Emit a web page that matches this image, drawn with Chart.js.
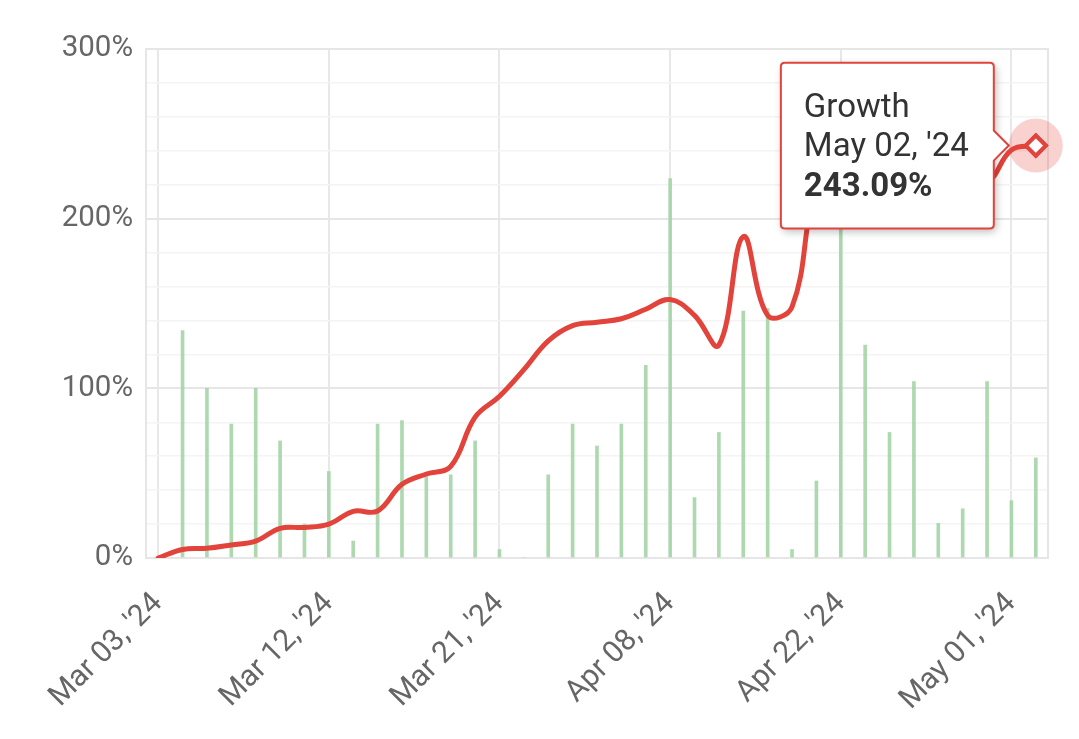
<!DOCTYPE html>
<html>
<head>
<meta charset="utf-8">
<script src="https://cdn.jsdelivr.net/npm/chart.js@4.4.1/dist/chart.umd.min.js"></script>
<style>
  html, body { margin: 0; padding: 0; background: #ffffff; }
  #wrap { width: 1079px; height: 739px; position: relative; }
</style>
</head>
<body>
<div id="wrap"><canvas id="c"></canvas></div>
<script>
const categories = [
  "Mar 03, '24", "Mar 04, '24", "Mar 05, '24", "Mar 06, '24", "Mar 07, '24", "Mar 08, '24", "Mar 10, '24",
  "Mar 12, '24", "Mar 13, '24", "Mar 14, '24", "Mar 15, '24", "Mar 17, '24", "Mar 18, '24", "Mar 19, '24",
  "Mar 21, '24", "Mar 24, '24", "Mar 26, '24", "Mar 28, '24", "Apr 01, '24", "Apr 03, '24", "Apr 05, '24",
  "Apr 08, '24", "Apr 10, '24", "Apr 12, '24", "Apr 14, '24", "Apr 16, '24", "Apr 18, '24", "Apr 20, '24",
  "Apr 22, '24", "Apr 23, '24", "Apr 24, '24", "Apr 25, '24", "Apr 26, '24", "Apr 28, '24", "Apr 29, '24",
  "May 01, '24", "May 02, '24"
];
const growth = [
  0, 5, 5.7, 7.7, 10, 17.5, 18,
  20, 27.5, 27.7, 43.4, 49.5, 54, 83,
  95.3, 111, 128, 137, 139, 141, 146.6,
  152.3, 143, 125.5, 189.4, 143, 148, 218,
  232, 226, 236, 229, 237, 231, 222,
  240.5, 243.09
];
const dailyBars = [
  0, 134, 100, 79, 100, 69, 20,
  51, 10, 79, 81, 48, 49, 69,
  5, 0, 49, 79, 66, 79, 113.6,
  223.6, 35.6, 74, 145.6, 147, 5, 45.4,
  215, 125.5, 74, 104, 20.4, 29, 104,
  33.8, 59
];
const yTickLabels = { 0: "0%", 100: "100%", 200: "200%", 300: "300%" };
const seriesName = "Growth";
const activeIndex = 36;

const RED = "#e2433b";

const framePlugin = {
  id: "frame",
  beforeDatasetsDraw(chart) {
    const a = chart.chartArea, ctx = chart.ctx;
    ctx.save();
    ctx.strokeStyle = "#e6e6e6";
    ctx.lineWidth = 2;
    ctx.strokeRect(a.left, a.top, a.right - a.left, a.bottom - a.top);
    ctx.restore();
  },
  afterDatasetsDraw(chart) {
    const act = chart.getActiveElements();
    const ctx = chart.ctx;
    act.forEach(a => {
      const el = a.element;
      ctx.save();
      ctx.beginPath();
      ctx.arc(el.x, el.y, 27, 0, Math.PI * 2);
      ctx.fillStyle = "rgba(229,67,59,0.24)";
      ctx.fill();
      ctx.restore();
      el.draw(ctx, chart.chartArea);
    });
  },
  beforeTooltipDraw(chart, args) {
    const t = args.tooltip;
    if (!t || !t.opacity) return;
    const ctx = chart.ctx;
    ctx.save();
    ctx.shadowColor = "rgba(0,0,0,0.28)";
    ctx.shadowBlur = 8;
    ctx.shadowOffsetX = 2;
    ctx.shadowOffsetY = 3;
    ctx.fillStyle = "#ffffff";
    ctx.beginPath();
    ctx.roundRect(t.x, t.y, t.width, t.height, 4);
    ctx.fill();
    ctx.restore();
  }
};

const chart = new Chart(document.getElementById("c"), {
  type: "bar",
  data: {
    labels: categories,
    datasets: [
      {
        type: "line",
        label: seriesName,
        data: growth,
        borderColor: RED,
        borderWidth: 5,
        tension: 0.4,
        fill: false,
        pointRadius: 0,
        pointHoverRadius: 10,
        pointHoverBorderWidth: 4,
        pointStyle: "rectRot",
        pointHoverBackgroundColor: "#ffffff",
        pointHoverBorderColor: RED,
        borderCapStyle: "round"
      },
      {
        type: "bar",
        label: "Daily",
        data: dailyBars,
        backgroundColor: "rgba(160,210,162,0.85)",
        barThickness: 3
      }
    ]
  },
  options: {
    responsive: true,
    maintainAspectRatio: false,
    animation: false,
    events: [],
    layout: { padding: { top: 49, right: 31, left: 0, bottom: 0 } },
    plugins: {
      legend: { display: false },
      tooltip: {
        enabled: true,
        xAlign: "right",
        yAlign: "center",
        backgroundColor: "#ffffff",
        borderColor: RED,
        borderWidth: 2,
        cornerRadius: 4,
        caretSize: 15,
        caretPadding: 27,
        displayColors: false,
        titleColor: "#333333",
        bodyColor: "#333333",
        titleFont: { family: "Roboto", size: 33, weight: "normal" },
        bodyFont: { family: "Roboto", size: 33, weight: "bold" },
        titleSpacing: 0,
        titleMarginBottom: 0,
        padding: { top: 26, bottom: 21, left: 23, right: 25 },
        filter: (item) => item.datasetIndex === 0,
        callbacks: {
          title: (items) => [seriesName, categories[items[0].dataIndex]],
          label: (item) => item.parsed.y.toFixed(2) + "%"
        }
      }
    },
    scales: {
      x: {
        offset: true,
        grid: {
          offset: false,
          color: "#e8e8e8",
          lineWidth: 2,
          drawTicks: false
        },
        border: { display: false },
        ticks: {
          autoSkip: false,
          maxRotation: 45,
          minRotation: 45,
          padding: 28,
          color: "#666666",
          font: { family: "Roboto", size: 30 },
          callback: function (value, index) {
            return index % 7 === 0 ? categories[index] : null;
          }
        },
        afterFit: (s) => { s.height = 181; }
      },
      y: {
        min: 0,
        max: 300,
        grid: {
          drawTicks: false,
          color: (ctx) => (ctx.tick && ctx.tick.value % 100 === 0) ? "#e6e6e6" : "#f4f4f4",
          lineWidth: (ctx) => (ctx.tick && ctx.tick.value % 100 === 0) ? 2 : 1.5
        },
        border: { display: false },
        ticks: {
          autoSkip: false,
          stepSize: 20,
          padding: 13,
          color: "#666666",
          font: { family: "Roboto", size: 29.5 },
          callback: (v) => (yTickLabels[v] !== undefined ? yTickLabels[v] : "")
        },
        afterFit: (s) => { s.width = 146; }
      }
    }
  },
  plugins: [framePlugin]
});

const act = [{ datasetIndex: 0, index: activeIndex }];
chart.setActiveElements(act);
const pt = chart.getDatasetMeta(0).data[activeIndex];
chart.tooltip.setActiveElements(act, { x: pt.x, y: pt.y });
chart.update();
</script>
</body>
</html>
